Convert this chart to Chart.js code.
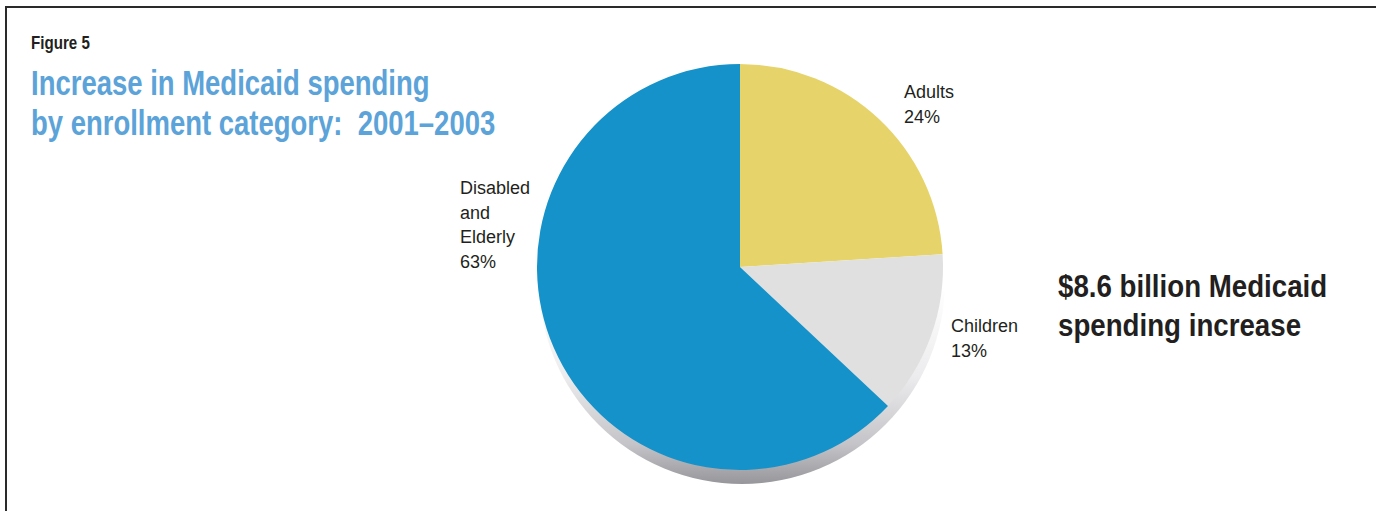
<!DOCTYPE html>
<html>
<head>
<meta charset="utf-8">
<script src="https://cdn.jsdelivr.net/npm/chart.js@4/dist/chart.umd.min.js"></script>
<style>
  html, body { margin: 0; padding: 0; background: #fff; }
  body { width: 1376px; height: 511px; position: relative; overflow: hidden;
         font-family: "Liberation Sans Narrow", "Liberation Sans", Arial, sans-serif; }
  .frame { position: absolute; left: 5px; top: 6px; width: 1371px; height: 505px;
           border-left: 2px solid #2a2a2a; border-top: 2px solid #2a2a2a; box-sizing: border-box; }
  .fig { position: absolute; left: 31px; top: 33px; font-size: 18px; font-weight: bold; color: #231f20;
         transform: scaleX(0.84); transform-origin: left top; white-space: nowrap; }
  .title { position: absolute; left: 31px; top: 63px; font-size: 35px; line-height: 40px;
           font-weight: bold; color: #5ba3d8; transform: scaleX(0.785); transform-origin: left top;
           white-space: nowrap; }
  .lbl { position: absolute; font-size: 18px; line-height: 24.5px; color: #231f20; }
  .big { position: absolute; left: 1058px; top: 267px; font-size: 32px; line-height: 39px;
         font-weight: bold; color: #231f20; transform: scaleX(0.865); transform-origin: left top;
         white-space: nowrap; }
  #wrap { position: absolute; left: 517px; top: 44px; width: 446px; height: 446px; }
</style>
</head>
<body>
<div class="frame"></div>
<div class="fig">Figure 5</div>
<div class="title">Increase in Medicaid spending<br>by enrollment category:&nbsp; 2001–2003</div>
<div class="lbl" id="lblAdults" style="left:904px; top:80px;"></div>
<div class="lbl" id="lblChildren" style="left:951px; top:314px;"></div>
<div class="lbl" id="lblDisabled" style="left:460px; top:176px;"></div>
<div class="big">$8.6 billion Medicaid<br>spending increase</div>
<div id="wrap"><canvas id="c" width="446" height="446"></canvas></div>
<script>
const categories = ["Adults", "Children", "Disabled and Elderly"];
const labelLines = [["Adults"], ["Children"], ["Disabled", "and", "Elderly"]];
const shares = [24, 13, 63];
const colors = ["#e6d46a", "#e0e0e0", "#1592c9"];

const ids = ["lblAdults", "lblChildren", "lblDisabled"];
ids.forEach((id, i) => {
  document.getElementById(id).innerHTML = labelLines[i].join("<br>") + "<br>" + shares[i] + "%";
});

const shadowPlugin = {
  id: "pieShadow",
  beforeDatasetsDraw(chart) {
    const arc = chart.getDatasetMeta(0).data[0];
    if (!arc) return;
    const { x, y, outerRadius } = arc.getProps(["x", "y", "outerRadius"], true);
    const ctx = chart.ctx;
    const dx = 2, dy = 14;
    const g = ctx.createLinearGradient(0, y + outerRadius * 0.1, 0, y + outerRadius + dy);
    g.addColorStop(0, "#ffffff");
    g.addColorStop(0.45, "#ececee");
    g.addColorStop(0.8, "#c4c4c8");
    g.addColorStop(1, "#96969b");
    ctx.save();
    ctx.beginPath();
    ctx.arc(x + dx, y + dy, outerRadius, 0, Math.PI * 2);
    ctx.fillStyle = g;
    ctx.fill();
    ctx.restore();
  }
};

new Chart(document.getElementById("c"), {
  type: "pie",
  data: {
    labels: categories,
    datasets: [{ data: shares, backgroundColor: colors, borderWidth: 0, hoverOffset: 0 }]
  },
  options: {
    responsive: false,
    animation: false,
    layout: { padding: 20 },
    plugins: { legend: { display: false }, tooltip: { enabled: false } }
  },
  plugins: [shadowPlugin]
});
</script>
</body>
</html>
